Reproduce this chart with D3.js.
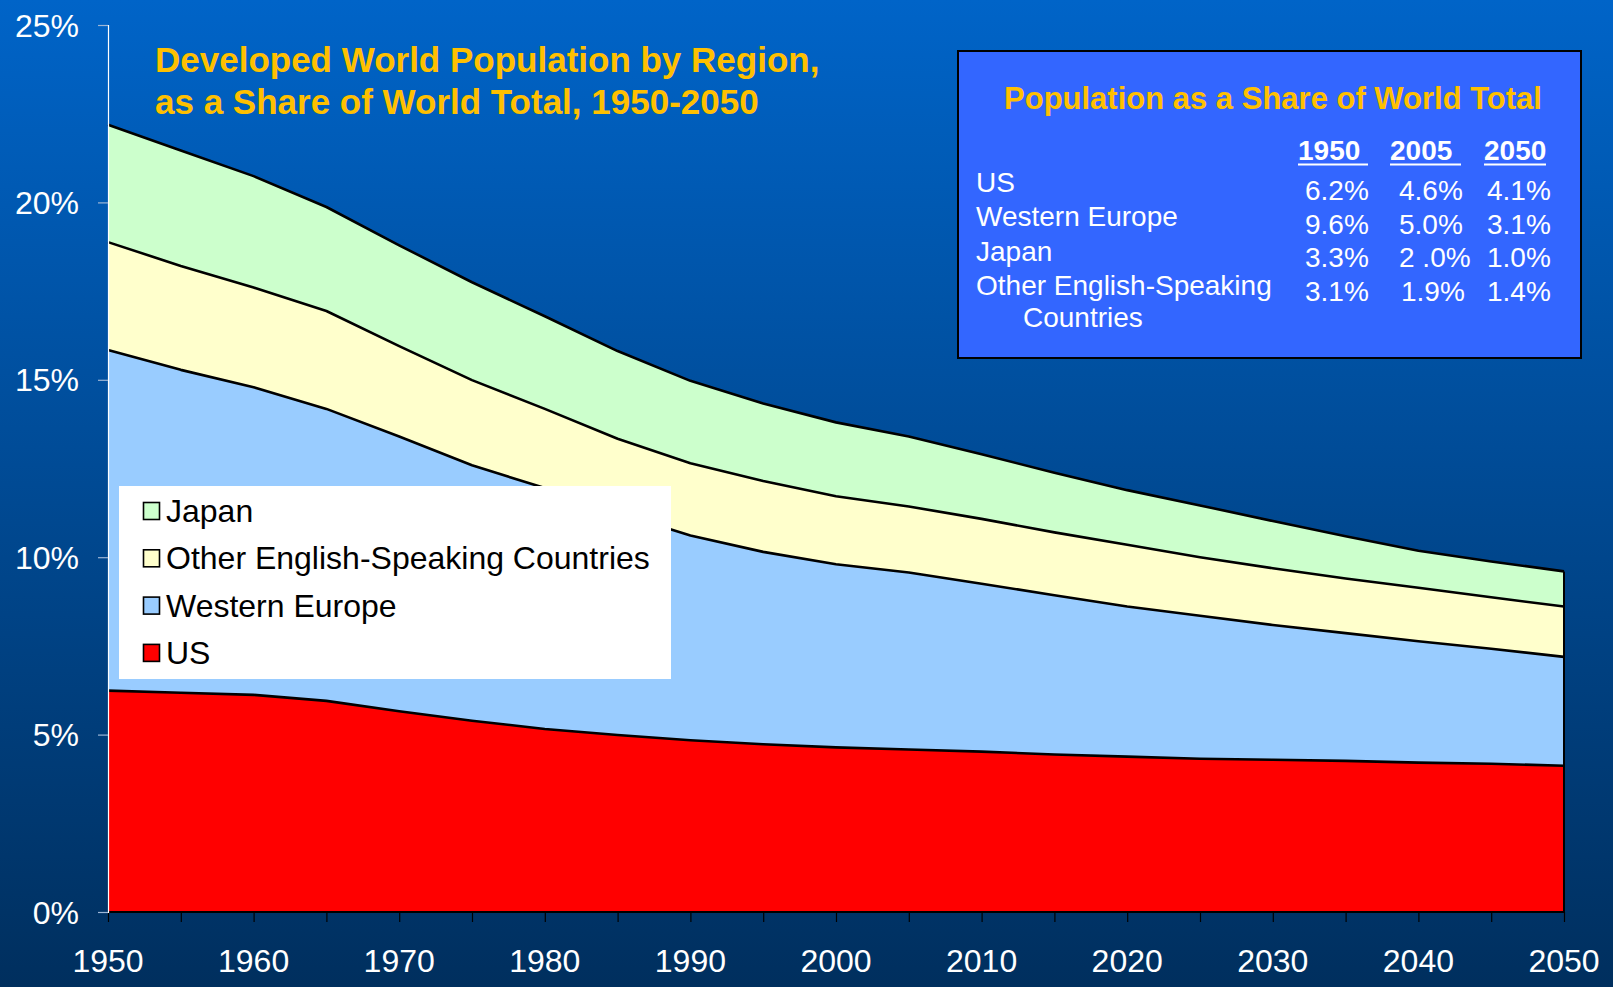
<!DOCTYPE html>
<html><head><meta charset="utf-8">
<script src="https://cdn.jsdelivr.net/npm/d3@7"></script>
<style>
body{margin:0;overflow:hidden;background:#003060}
svg{display:block}
text{font-family:"Liberation Sans",Arial,sans-serif}
</style>
</head><body>
<svg id="chart" width="1613" height="987"></svg>
<script>
// share of world population, %, every 5 years
const years = [1950,1955,1960,1965,1970,1975,1980,1985,1990,1995,2000,2005,2010,2015,2020,2025,2030,2035,2040,2045,2050];
const us = [6.24,6.18,6.12,5.95,5.66,5.39,5.16,4.99,4.84,4.73,4.64,4.58,4.52,4.44,4.38,4.32,4.29,4.26,4.21,4.18,4.12];
const westEurope = [9.60,9.10,8.67,8.23,7.74,7.20,6.79,6.26,5.77,5.42,5.16,4.99,4.73,4.49,4.23,4.03,3.80,3.60,3.42,3.24,3.07];
const otherEnglish = [3.04,2.93,2.81,2.76,2.55,2.40,2.23,2.09,2.04,2.00,1.92,1.86,1.83,1.77,1.74,1.65,1.60,1.54,1.51,1.45,1.42];
const japan = [3.31,3.25,3.14,2.93,2.84,2.76,2.61,2.47,2.32,2.18,2.08,1.97,1.82,1.68,1.54,1.46,1.33,1.19,1.04,1.01,0.99];

const keys = ["us", "we", "oe", "jp"];
const names = {us: "US", we: "Western Europe", oe: "Other English-Speaking Countries", jp: "Japan"};
const colors = {us: "#FF0000", we: "#99CCFF", oe: "#FFFFCC", jp: "#CCFFCC"};
const legendOrder = ["jp", "oe", "we", "us"];

const yTicks = [0, 5, 10, 15, 20, 25];
const xTicks = [1950,1960,1970,1980,1990,2000,2010,2020,2030,2040,2050];
const xMinor = years;

const tableTitle = "Population as a Share of World Total";
const tableCols = ["1950", "2005", "2050"];
const tableRows = ["US", "Western Europe", "Japan", "Other English-Speaking"];
const tableVals = [
    ["6.2%", "4.6%", "4.1%"],
    ["9.6%", "5.0%", "3.1%"],
    ["3.3%", "2 .0%", "1.0%"],
    ["3.1%", "1.9%", "1.4%"]
];

const svg = d3.select("#chart");
const W = 1613, H = 987;
const defs = svg.append("defs");
const grad = defs.append("linearGradient").attr("id", "bg").attr("x1", 0).attr("y1", 0).attr("x2", 0).attr("y2", 1);
grad.append("stop").attr("offset", "0").attr("stop-color", "#0064C8");
grad.append("stop").attr("offset", "1").attr("stop-color", "#002F5E");
svg.append("rect").attr("width", W).attr("height", H).attr("fill", "url(#bg)");

const x = d3.scaleLinear().domain([1950, 2050]).range([108, 1564]);
const y = d3.scaleLinear().domain([0, 25]).range([912, 25]);

const rows = years.map((yr, i) => ({year: yr, us: us[i], we: westEurope[i], oe: otherEnglish[i], jp: japan[i]}));
const series = d3.stack().keys(keys)(rows);

const area = d3.area().x(d => x(d.data.year)).y0(d => y(d[0])).y1(d => y(d[1]));
const line = d3.line().x(d => x(d.data.year)).y(d => y(d[1]));

const plot = svg.append("g");
plot.selectAll("path.area").data(series).join("path")
    .attr("class", "area").attr("d", area).attr("fill", s => colors[s.key]);
plot.selectAll("path.top").data(series).join("path")
    .attr("class", "top").attr("d", line).attr("fill", "none")
    .attr("stroke", "#000").attr("stroke-width", 2.6).attr("stroke-linejoin", "round");
// right edge and baseline
const last = series[series.length - 1][years.length - 1];
plot.append("line").attr("x1", x(2050)).attr("x2", x(2050)).attr("y1", y(0)).attr("y2", y(last[1]))
    .attr("stroke", "#000").attr("stroke-width", 2);
plot.append("line").attr("x1", x(1950)).attr("x2", x(2050)).attr("y1", y(0)).attr("y2", y(0))
    .attr("stroke", "#000").attr("stroke-width", 2);

// x axis
const xAx = svg.append("g").attr("transform", `translate(0,${y(0)})`);
xAx.call(d3.axisBottom(x).tickValues(xMinor).tickSize(10).tickFormat(""));
xAx.select(".domain").remove();
xAx.selectAll(".tick line").attr("stroke", "#000").attr("stroke-width", 1.2);
const xLab = svg.append("g");
xLab.selectAll("text").data(xTicks).join("text")
    .attr("x", d => x(d)).attr("y", 972).attr("text-anchor", "middle")
    .attr("fill", "#fff").attr("font-size", 32).text(d => d);

// y axis
const yAx = svg.append("g").attr("transform", `translate(${x(1950)},0)`);
yAx.call(d3.axisLeft(y).tickValues(yTicks).tickSize(10).tickFormat(""));
yAx.select(".domain").attr("stroke", "#fff").attr("stroke-width", 1.2);
yAx.selectAll(".tick line").attr("stroke", "#9DB6D6").attr("stroke-width", 1.2);
svg.append("g").selectAll("text").data(yTicks).join("text")
    .attr("x", 79).attr("y", d => y(d)).attr("dy", "0.36em").attr("text-anchor", "end")
    .attr("fill", "#fff").attr("font-size", 32).text(d => d + "%");

// title
const title = svg.append("text").attr("x", 155).attr("y", 72).attr("fill", "#FFC000")
    .attr("font-size", 35).attr("font-weight", "bold");
title.append("tspan").attr("x", 155).text("Developed World Population by Region,");
title.append("tspan").attr("x", 155).attr("y", 114).text("as a Share of World Total, 1950-2050");

// legend
const lg = svg.append("g");
lg.append("rect").attr("x", 119).attr("y", 486).attr("width", 552).attr("height", 193).attr("fill", "#fff");
legendOrder.forEach((k, i) => {
    const by = 522 + i * 47.3;
    lg.append("rect").attr("x", 143.5).attr("y", by - 19.5).attr("width", 16).attr("height", 17)
        .attr("fill", colors[k]).attr("stroke", "#000").attr("stroke-width", 1.6);
    lg.append("text").attr("x", 166).attr("y", by).attr("font-size", 32).attr("fill", "#000").text(names[k]);
});

// share table
const tb = svg.append("g");
tb.append("rect").attr("x", 958).attr("y", 51).attr("width", 623).attr("height", 307)
    .attr("fill", "#3366FF").attr("stroke", "#000").attr("stroke-width", 2);
tb.append("text").attr("x", 1273).attr("y", 109).attr("text-anchor", "middle").attr("fill", "#FFC000")
    .attr("font-size", 31).attr("font-weight", "bold").text(tableTitle);
const colX = [1298, 1390, 1484], colW = [70, 71, 62];
tableCols.forEach((c, j) => {
    tb.append("text").attr("x", colX[j]).attr("y", 160).attr("fill", "#fff").attr("font-size", 28)
        .attr("font-weight", "bold").text(c);
    tb.append("line").attr("x1", colX[j]).attr("x2", colX[j] + colW[j]).attr("y1", 164.5).attr("y2", 164.5)
        .attr("stroke", "#fff").attr("stroke-width", 2.2);
});
const valX = [1305, 1399, 1487];
tableRows.forEach((r, i) => {
    tb.append("text").attr("x", 976).attr("y", 192 + i * 34.3).attr("fill", "#fff").attr("font-size", 28).text(r);
    tableVals[i].forEach((v, j) => {
        tb.append("text").attr("x", valX[j] + (v === "1.9%" ? 2 : 0)).attr("y", 200 + i * 33.5)
            .attr("fill", "#fff").attr("font-size", 28).text(v);
    });
});
tb.append("text").attr("x", 1023).attr("y", 327).attr("fill", "#fff").attr("font-size", 28).text("Countries");
</script>
</body></html>
